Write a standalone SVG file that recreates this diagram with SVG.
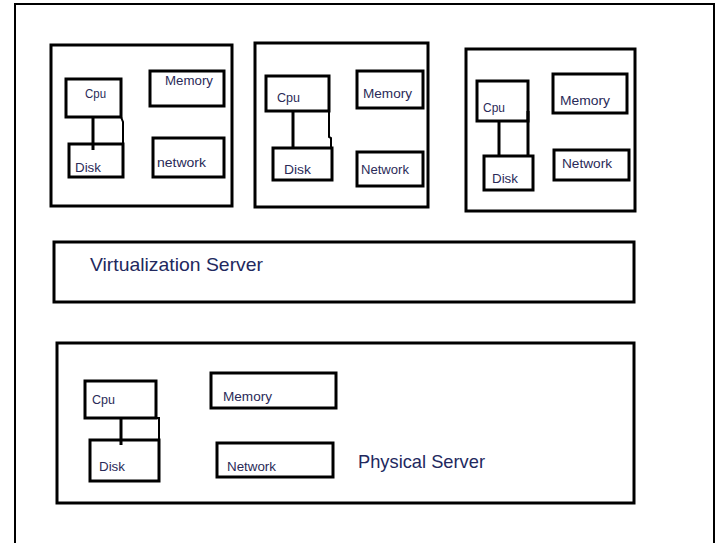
<svg xmlns="http://www.w3.org/2000/svg" width="719" height="543" viewBox="0 0 719 543">
  <style>
    .frame { fill: none; stroke: #000; stroke-width: 2; }
    .box { fill: #fff; stroke: #000; stroke-width: 3; }
    .part { fill: #fff; stroke: #000; stroke-width: 3; }
    .wire { fill: none; stroke: #000; stroke-width: 3; }
    .lbl { font-family: "Liberation Sans", Arial, sans-serif; font-size: 12.5px; fill: #2a2a58; }
    .big { font-family: "Liberation Sans", Arial, sans-serif; font-size: 19px; fill: #22285e; }
  </style>

  <rect width="719" height="543" fill="#fff"/>
  <!-- page frame (bottom edge runs off the page) -->
  <path class="frame" d="M15,560 V4 H714 V560"/>

  <!-- virtual machine 1 -->
  <g id="vm1">
    <rect class="box" x="51" y="45" width="181" height="161"/>
    <g id="vm1-cpu"><rect class="part" x="66" y="79" width="55" height="38"/><text class="lbl" x="85" y="98" textLength="21" lengthAdjust="spacingAndGlyphs">Cpu</text></g>
    <g id="vm1-memory"><rect class="part" x="150" y="71" width="74" height="35"/><text class="lbl" x="165" y="85" textLength="48" lengthAdjust="spacingAndGlyphs">Memory</text></g>
    <g id="vm1-disk"><rect class="part" x="69" y="144" width="54" height="33"/><text class="lbl" x="75" y="172" textLength="26" lengthAdjust="spacingAndGlyphs">Disk</text></g>
    <g id="vm1-network"><rect class="part" x="153" y="138" width="71" height="39"/><text class="lbl" x="157" y="167" textLength="49" lengthAdjust="spacingAndGlyphs">network</text></g>
  </g>

  <!-- virtual machine 2 -->
  <g id="vm2">
    <rect class="box" x="255" y="43" width="173" height="164"/>
    <g id="vm2-cpu"><rect class="part" x="266" y="76" width="63" height="35"/><text class="lbl" x="277" y="102" textLength="23" lengthAdjust="spacingAndGlyphs">Cpu</text></g>
    <g id="vm2-memory"><rect class="part" x="357" y="71" width="66" height="37"/><text class="lbl" x="363" y="98" textLength="49" lengthAdjust="spacingAndGlyphs">Memory</text></g>
    <g id="vm2-disk"><rect class="part" x="273" y="148" width="59" height="32"/><text class="lbl" x="284" y="174" textLength="27" lengthAdjust="spacingAndGlyphs">Disk</text></g>
    <g id="vm2-network"><rect class="part" x="357" y="152" width="66" height="34"/><text class="lbl" x="361" y="174" textLength="48" lengthAdjust="spacingAndGlyphs">Network</text></g>
  </g>

  <!-- virtual machine 3 -->
  <g id="vm3">
    <rect class="box" x="466" y="49" width="169" height="162"/>
    <g id="vm3-cpu"><rect class="part" x="477" y="81" width="51" height="40"/><text class="lbl" x="483" y="112" textLength="22" lengthAdjust="spacingAndGlyphs">Cpu</text></g>
    <g id="vm3-memory"><rect class="part" x="553" y="74" width="74" height="39"/><text class="lbl" x="560" y="105" textLength="50" lengthAdjust="spacingAndGlyphs">Memory</text></g>
    <g id="vm3-disk"><rect class="part" x="484" y="156" width="49" height="34"/><text class="lbl" x="492" y="183" textLength="26" lengthAdjust="spacingAndGlyphs">Disk</text></g>
    <g id="vm3-network"><rect class="part" x="554" y="150" width="75" height="30"/><text class="lbl" x="562" y="168" textLength="50" lengthAdjust="spacingAndGlyphs">Network</text></g>
  </g>

  <!-- hypervisor layer -->
  <g id="virtualization-server">
    <rect class="box" x="54" y="242" width="580" height="60"/>
    <text class="big" x="90" y="271" textLength="173" lengthAdjust="spacingAndGlyphs">Virtualization Server</text>
  </g>

  <!-- host hardware -->
  <g id="physical-server">
    <rect class="box" x="57" y="343" width="577" height="160"/>
    <g id="host-cpu"><rect class="part" x="85" y="381" width="71" height="37"/><text class="lbl" x="92" y="404" textLength="23" lengthAdjust="spacingAndGlyphs">Cpu</text></g>
    <g id="host-memory"><rect class="part" x="211" y="373" width="125" height="35"/><text class="lbl" x="223" y="401" textLength="49" lengthAdjust="spacingAndGlyphs">Memory</text></g>
    <g id="host-disk"><rect class="part" x="90" y="440" width="69" height="41"/><text class="lbl" x="99" y="471" textLength="26" lengthAdjust="spacingAndGlyphs">Disk</text></g>
    <g id="host-network"><rect class="part" x="217" y="443" width="116" height="34"/><text class="lbl" x="227" y="471" textLength="49" lengthAdjust="spacingAndGlyphs">Network</text></g>
    <text class="big" x="358" y="468" textLength="127" lengthAdjust="spacingAndGlyphs">Physical Server</text>
  </g>

  <!-- cpu-to-disk links -->
  <g id="connectors">
    <path class="wire" d="M93,117 V150"/>
    <path class="wire" d="M121,117 L123,122 V144" style="stroke-width:2"/>
    <path class="wire" d="M293,111 V148"/>
    <path class="wire" d="M329,111 V137 L331,138 V148" style="stroke-width:2"/>
    <path class="wire" d="M499,121 V156"/>
    <path class="wire" d="M528,111 V156"/>
    <path class="wire" d="M121,418 V445"/>
    <path class="wire" d="M156,418 H159 V440" style="stroke-width:2"/>
  </g>
</svg>
